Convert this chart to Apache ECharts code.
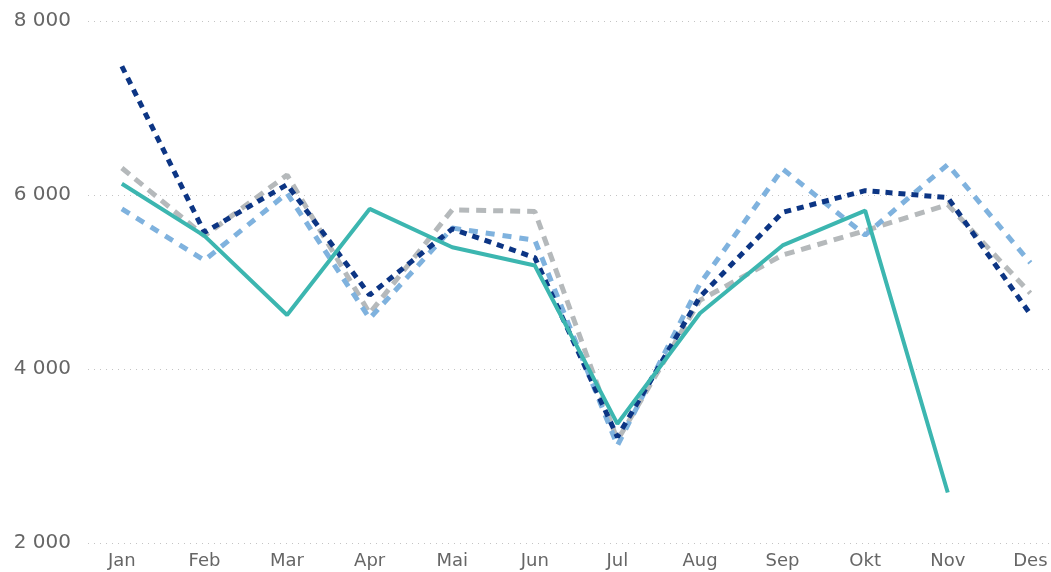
<!DOCTYPE html>
<html>
<head>
<meta charset="utf-8">
<script src="https://cdn.jsdelivr.net/npm/echarts@6/dist/echarts.min.js"></script>
<style>
  html, body { margin: 0; padding: 0; background: #fff; }
  #chart { width: 1051px; height: 572px; }
</style>
</head>
<body>
<div id="chart"></div>
<script>
// måneder
const months = ['Jan', 'Feb', 'Mar', 'Apr', 'Mai', 'Jun', 'Jul', 'Aug', 'Sep', 'Okt', 'Nov', 'Des']
const yTicks = [2000, 4000, 6000, 8000]

// serier (lest av bildet)
const graySeries = [6310, 5530, 6230, 4640, 5830, 5810, 3180, 4790, 5310, 5590, 5890, 4870]
const lightBlueSeries = [5840, 5250, 6020, 4580, 5620, 5480, 3120, 4980, 6300, 5540, 6350, 5220]
const darkBlueSeries = [7480, 5570, 6120, 4850, 5610, 5280, 3220, 4830, 5800, 6050, 5970, 4630]
const tealSeries = [6130, 5530, 4620, 5840, 5400, 5190, 3370, 4640, 5420, 5820, 2580]

const toPoints = (arr) => arr.map((v, i) => [i, v])
const fmt = (v) => String(v).replace(/\B(?=(\d{3})+(?!\d))/g, ' ')

const chart = echarts.init(document.getElementById('chart'))

const option = {
  animation: false,
  grid: { left: 88, right: 0, top: 21, bottom: 29 },
  xAxis: {
    type: 'value',
    min: -0.41,
    max: 11.25,
    axisLine: { show: false },
    axisTick: { show: false },
    splitLine: { show: false },
    axisLabel: {
      customValues: months.map((m, i) => i),
      formatter: (v) => months[Math.round(v)] || '',
      color: '#666',
      fontFamily: 'DejaVu Sans',
      fontSize: 18,
      margin: 9
    }
  },
  yAxis: {
    type: 'value',
    min: yTicks[0],
    max: yTicks[yTicks.length - 1],
    interval: 2000,
    axisLine: { show: false },
    axisTick: { show: false },
    axisLabel: {
      formatter: fmt,
      color: '#666',
      fontFamily: 'DejaVu Sans',
      fontSize: 20,
      margin: 17
    },
    splitLine: {
      lineStyle: { color: '#c4c4c4', type: [1, 5], width: 1 }
    }
  },
  series: [
    {
      name: 'gray',
      type: 'line',
      data: toPoints(graySeries),
      symbol: 'none',
      lineStyle: { color: '#b5b9bb', width: 5, type: [10, 7] }
    },
    {
      name: 'lightblue',
      type: 'line',
      data: toPoints(lightBlueSeries),
      symbol: 'none',
      lineStyle: { color: '#7fb2de', width: 5, type: [9, 8] }
    },
    {
      name: 'darkblue',
      type: 'line',
      data: toPoints(darkBlueSeries),
      symbol: 'none',
      lineStyle: { color: '#0c3584', width: 5, type: [7, 6] }
    },
    {
      name: 'teal',
      type: 'line',
      data: toPoints(tealSeries),
      symbol: 'none',
      lineStyle: { color: '#3cb6b0', width: 4 }
    }
  ]
}

chart.setOption(option)
window.addEventListener('resize', () => chart.resize())
</script>
</body>
</html>
